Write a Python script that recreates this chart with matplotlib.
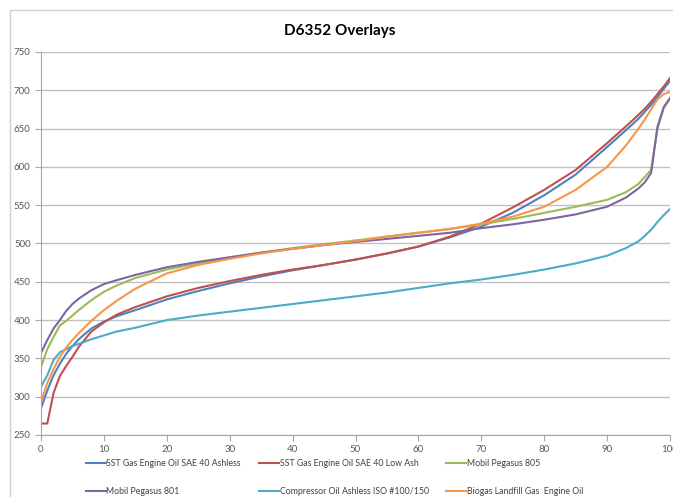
import matplotlib
matplotlib.use("Agg")
import matplotlib.pyplot as plt
from matplotlib.patches import Rectangle

plt.rcParams['font.family'] = ['Lato', 'DejaVu Sans']

# percent recovered
x = [0, 1, 2, 3, 4, 5, 6, 8, 10, 12, 15, 20, 25, 30, 35, 40, 45, 50, 55, 60,
     65, 70, 75, 80, 85, 90, 93, 95, 96, 97, 98, 99, 100]

sst_ashless = [285, 308, 328, 343, 356, 366, 375, 389, 398, 405, 413, 427, 438, 448, 457, 465,
               472, 479, 487, 496, 508, 522, 540, 563, 590, 626, 648, 663, 672, 681, 691, 702, 712]
sst_low_ash = [265, 265, 305, 327, 340, 352, 365, 385, 397, 407, 417, 431, 442, 451, 459, 466,
               472, 479, 487, 496, 509, 526, 547, 570, 596, 631, 653, 668, 676, 685, 695, 705, 716]
pegasus_805 = [339, 362, 378, 393, 399, 406, 413, 426, 437, 445, 455, 466, 474, 482, 488, 494,
               499, 504, 509, 514, 519, 525, 532, 540, 548, 557, 567, 578, 587, 596, 650, 677, 689]
pegasus_801 = [357, 374, 389, 400, 412, 421, 428, 439, 447, 452, 459, 469, 476, 482, 488, 493,
               498, 502, 506, 510, 514, 520, 525, 531, 538, 548, 560, 572, 580, 592, 652, 678, 690]
compressor = [313, 328, 348, 358, 362, 366, 369, 375, 380, 385, 390, 400, 406, 411, 416, 421,
              426, 431, 436, 442, 448, 453, 459, 466, 474, 484, 494, 503, 510, 518, 528, 537, 545]
biogas = [293, 318, 336, 352, 364, 374, 383, 399, 413, 425, 441, 461, 472, 480, 487, 493,
          498, 503, 509, 514, 519, 526, 535, 548, 570, 600, 628, 650, 662, 675, 688, 695, 698]

names = ['SST Gas Engine Oil SAE 40 Ashless', 'SST Gas Engine Oil SAE 40 Low Ash',
         'Mobil Pegasus 805', 'Mobil Pegasus 801',
         'Compressor Oil Ashless ISO #100/150', 'Biogas Landfill Gas  Engine Oil']
series = [sst_ashless, sst_low_ash, pegasus_805, pegasus_801, compressor, biogas]
colors = ['#4F81BD', '#C0504D', '#9BBB59', '#8064A2', '#4BACC6', '#F79646']

fig = plt.figure(figsize=(6.73, 4.97), dpi=100)
fig.patches.append(Rectangle((10 / 673, -0.1), 1.2, 1 - 10 / 497 + 0.1, transform=fig.transFigure,
                             fill=False, edgecolor='#D0D0D0', linewidth=1))
ax = fig.add_axes([41 / 673, 1 - 435 / 497, 629 / 673, 383 / 497])

lines = []
for y, name, c in zip(series, names, colors):
    ln, = ax.plot(x, y, color=c, linewidth=1.5, label=name)
    lines.append(ln)

ax.set_xlim(0, 100)
ax.set_ylim(250, 750)
ax.set_xticks(range(0, 101, 10))
ax.set_yticks(range(250, 751, 50))
ax.grid(axis='y', color='#C0C0C0', linewidth=1)
ax.set_axisbelow(True)
for s in ['top', 'right']:
    ax.spines[s].set_visible(False)
for s in ['left', 'bottom']:
    ax.spines[s].set_color('#A6A6A6')
ax.tick_params(colors='#A6A6A6', labelcolor='#595959', labelsize=7, length=4)

fig.text(0.505, 0.937, 'D6352 Overlays', ha='center', va='center', fontsize=11, fontweight='bold')

order = [0, 3, 1, 4, 2, 5]
fig.legend([lines[i] for i in order], [names[i] for i in order], ncol=3, frameon=False,
           loc='upper left', bbox_to_anchor=(82 / 673, 1 - 456 / 497), borderaxespad=0,
           fontsize=6.3, handlelength=2.3, handletextpad=0.1, columnspacing=2.0,
           labelspacing=2.1, labelcolor='#404040')

fig.savefig('out.png', dpi=100)
